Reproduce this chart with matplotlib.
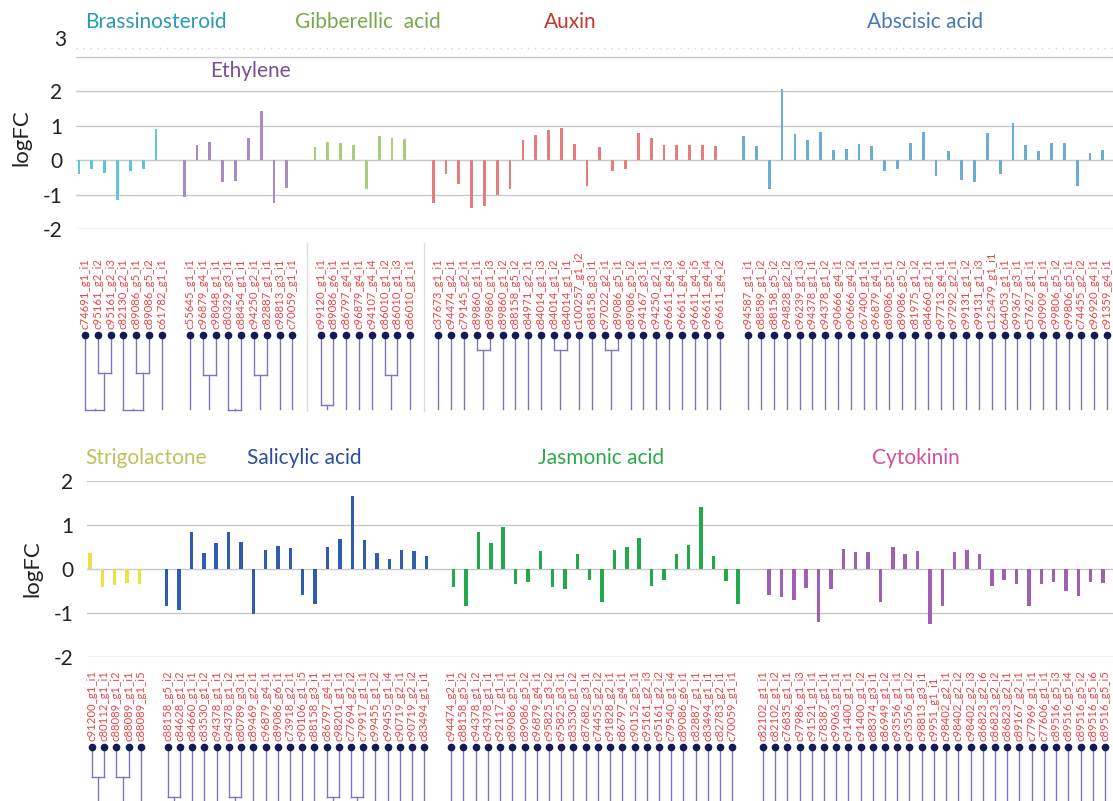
import numpy as np
import matplotlib.pyplot as plt
import matplotlib.transforms as mtrans

plt.rcParams['font.family'] = ['Lato', 'DejaVu Sans']

# ---------------- data: upper panel ----------------
brass_genes = ["c74691_g1_i1", "c95161_g2_i2", "c95161_g2_i3", "c82130_g2_i1", "c89086_g5_i1",
               "c89086_g5_i2", "c61782_g1_i1"]
brass_fc = [-0.41, -0.27, -0.37, -1.15, -0.32, -0.27, 0.92]

eth_genes = ["c55645_g1_i1", "c96879_g4_i1", "c98048_g1_i1", "c80329_g3_i1", "c88454_g1_i1",
             "c94250_g2_i1", "c82887_g1_i1", "c98813_g3_i1", "c70059_g1_i1"]
eth_fc = [-1.07, 0.44, 0.53, -0.63, -0.61, 0.66, 1.43, -1.23, -0.80]

ga_genes = ["c99120_g1_i1", "c89086_g6_i1", "c86797_g4_i1", "c96879_g4_i1", "c94107_g4_i4",
            "c86010_g1_i2", "c86010_g1_i3", "c86010_g1_i1"]
ga_fc = [0.39, 0.53, 0.51, 0.43, -0.84, 0.70, 0.66, 0.63]

aux_genes = ["c37673_g1_i1", "c94474_g2_i1", "c79145_g2_i1", "c89860_g1_i1", "c89860_g1_i3",
             "c89860_g1_i2", "c88158_g5_i2", "c84971_g2_i1", "c84014_g1_i3", "c84014_g1_i2",
             "c84014_g1_i1", "c100257_g1_i2", "c88158_g3_i1", "c97022_g2_i1", "c89086_g5_i1",
             "c89086_g5_i2", "c94167_g3_i1", "c94250_g2_i1", "c96611_g4_i3", "c96611_g4_i6",
             "c96611_g4_i5", "c96611_g4_i4", "c96611_g4_i2"]
aux_fc = [-1.23, -0.41, -0.70, -1.39, -1.34, -1.02, -0.83, 0.58, 0.74, 0.87, 0.95, 0.47,
          -0.76, 0.39, -0.32, -0.27, 0.78, 0.66, 0.44, 0.44, 0.44, 0.44, 0.41]

aba_genes = ["c94587_g1_i1", "c88589_g1_i2", "c88158_g5_i2", "c94828_g2_i2", "c96239_g1_i3",
             "c94378_g1_i1", "c94378_g1_i2", "c90666_g4_i1", "c90666_g4_i2", "c67400_g1_i1",
             "c96879_g4_i1", "c89086_g5_i1", "c89086_g5_i2", "c81975_g1_i2", "c84660_g1_i1",
             "c97713_g4_i1", "c97292_g2_i1", "c99131_g1_i2", "c99131_g1_i3", "c125479_g1_i1",
             "c64053_g1_i1", "c99367_g3_i1", "c57627_g1_i1", "c90909_g1_i1", "c99806_g5_i2",
             "c99806_g5_i1", "c74455_g2_i2", "c96920_g4_i1", "c91359_g4_i1"]
aba_fc = [0.70, 0.42, -0.83, 2.06, 0.76, 0.58, 0.81, 0.29, 0.34, 0.47, 0.42, -0.32, -0.27,
          0.50, 0.81, -0.46, 0.26, -0.58, -0.63, 0.78, -0.39, 1.09, 0.44, 0.26, 0.49, 0.50,
          -0.75, 0.22, 0.30]

# ---------------- data: lower panel ----------------
sl_genes = ["c91200_g1_i1", "c80112_g1_i1", "c88089_g1_i2", "c88089_g1_i1", "c88089_g1_i5"]
sl_fc = [0.36, -0.41, -0.36, -0.32, -0.35]

sa_genes = ["c88158_g5_i2", "c84628_g1_i2", "c84660_g1_i1", "c83530_g1_i2", "c94378_g1_i1",
            "c94378_g1_i2", "c80789_g3_i1", "c89469_g2_i1", "c96879_g4_i1", "c89086_g6_i1",
            "c73918_g2_i1", "c90106_g1_i5", "c88158_g3_i1", "c86797_g4_i1", "c98201_g1_i1",
            "c77694_g2_i2", "c79917_g1_i1", "c99455_g1_i2", "c99455_g1_i4", "c90719_g2_i1",
            "c90719_g2_i2", "c83494_g1_i1"]
sa_fc = [-0.84, -0.94, 0.83, 0.36, 0.58, 0.83, 0.62, -1.03, 0.43, 0.53, 0.47, -0.60, -0.79,
         0.51, 0.69, 1.67, 0.65, 0.36, 0.23, 0.43, 0.41, 0.30]

ja_genes = ["c94474_g2_i1", "c88158_g5_i2", "c94378_g1_i2", "c94378_g1_i1", "c92117_g1_i1",
            "c89086_g5_i1", "c89086_g5_i2", "c96879_g4_i1", "c95825_g3_i2", "c95825_g3_i1",
            "c83530_g1_i2", "c87682_g3_i1", "c74455_g2_i2", "c91828_g2_i1", "c86797_g4_i1",
            "c90152_g5_i1", "c95161_g2_i3", "c95161_g2_i2", "c79540_g1_i4", "c89086_g6_i1",
            "c82887_g1_i1", "c83494_g1_i1", "c82783_g2_i1", "c70059_g1_i1"]
ja_fc = [-0.41, -0.85, 0.83, 0.58, 0.96, -0.34, -0.30, 0.41, -0.40, -0.45, 0.35, -0.25,
         -0.75, 0.44, 0.51, 0.71, -0.38, -0.26, 0.34, 0.54, 1.42, 0.29, -0.28, -0.79]

ck_genes = ["c82102_g1_i1", "c82102_g1_i2", "c76835_g1_i1", "c97986_g1_i3", "c91521_g1_i1",
            "c78387_g1_i1", "c99063_g1_i1", "c91400_g1_i1", "c91400_g1_i2", "c88374_g3_i1",
            "c86949_g1_i2", "c93556_g1_i1", "c93556_g1_i2", "c98813_g3_i1", "c9951_g1_i1",
            "c98402_g2_i1", "c98402_g2_i2", "c98402_g2_i3", "c86823_g2_i6", "c86823_g2_i2",
            "c86823_g2_i1", "c89167_g2_i1", "c77969_g1_i1", "c77606_g1_i1", "c89516_g5_i3",
            "c89516_g5_i4", "c89516_g5_i2", "c89516_g5_i6", "c89516_g5_i5"]
ck_fc = [-0.58, -0.64, -0.71, -0.43, -1.20, -0.45, 0.45, 0.38, 0.38, -0.74, 0.49, 0.35, 0.40,
         -1.24, -0.85, 0.38, 0.43, 0.35, -0.38, -0.26, -0.34, -0.84, -0.34, -0.29, -0.49,
         -0.62, -0.30, -0.32, -0.30]

# cluster joins under the gene labels: (leaf a, leaf b, depth in px below the dots)
brass_tree = [(1, 2, 38), (0, 1, 75), (4, 5, 38), (3, 4, 75)]
eth_tree = [(1, 2, 40), (3, 4, 75), (5, 6, 40)]
ga_tree = [(0, 1, 70), (5, 6, 40)]
aux_tree = [(3, 4, 15), (9, 10, 15), (13, 14, 15)]
aba_tree = []
sl_tree = [(0, 1, 30), (2, 3, 30)]
sa_tree = [(0, 1, 50), (5, 6, 50), (13, 14, 50), (15, 16, 50)]
ja_tree = []
ck_tree = []

top_groups = [
    ("Brassinosteroid", brass_genes, brass_fc, brass_tree, "#5fc4dc", "#2a9bb3"),
    ("Ethylene", eth_genes, eth_fc, eth_tree, "#a88bc0", "#7a4f93"),
    ("Gibberellic  acid", ga_genes, ga_fc, ga_tree, "#a9cd7b", "#7aa94c"),
    ("Auxin", aux_genes, aux_fc, aux_tree, "#e87b7b", "#c0392b"),
    ("Abscisic acid", aba_genes, aba_fc, aba_tree, "#6aaed8", "#4a76b8"),
]
bot_groups = [
    ("Strigolactone", sl_genes, sl_fc, sl_tree, "#eee145", "#bfc15a"),
    ("Salicylic acid", sa_genes, sa_fc, sa_tree, "#2f5bb0", "#2d4e9e"),
    ("Jasmonic acid", ja_genes, ja_fc, ja_tree, "#22a94c", "#2ea84c"),
    ("Cytokinin", ck_genes, ck_fc, ck_tree, "#a05fb2", "#d24f9b"),
]

# ---------------- layout (pixels) ----------------
W, H = 1113, 801
top_gaps = [2.2, 2.2, 2.2, 2.2]
bot_gaps = [2.2, 2.2, 2.5]
top_title_x = [0.47, 10.2, 16.8, 36.2, 61.4]
top_title_y = [4.02, 2.59, 4.02, 4.02, 4.02]
bot_title_x = [-0.4, 12.7, 36.2, 63.2]
bot_title_y = [2.52, 2.52, 2.52, 2.52]


def positions(groups, gaps):
    out, start = [], 0.0
    for k, g in enumerate(groups):
        out.append(start + np.arange(len(g[1])))
        if k < len(gaps):
            start = out[-1][-1] + gaps[k]
    return out


def px_axes(fig, left, top, right, bottom):
    return fig.add_axes([left / W, 1 - bottom / H, (right - left) / W, (bottom - top) / H])


def draw_tree(ax, xs, merges, depth, color):
    centre = {i: xs[i] for i in range(len(xs))}
    low = {i: 0.0 for i in range(len(xs))}
    owner = list(range(len(xs)))
    for a, b, d in merges:
        ra, rb = owner[a], owner[b]
        for r in (ra, rb):
            ax.plot([centre[r], centre[r]], [low[r], -d], color=color, lw=1)
        ax.plot([centre[ra], centre[rb]], [-d, -d], color=color, lw=1)
        centre[ra] = (centre[ra] + centre[rb]) / 2
        low[ra] = -d
        owner = [ra if o == rb else o for o in owner]
        del centre[rb], low[rb]
    for r in centre:
        ax.plot([centre[r], centre[r]], [low[r], -depth], color=color, lw=1)


def panel(fig, groups, gaps, titles_x, titles_y, bar_box, first_px, step, ylim, yticks,
          width, strip_box, lab_first, lab_last, depth, dot_y, third_label=False):
    xs = positions(groups, gaps)
    left, top, right, bottom = bar_box
    ax = px_axes(fig, left, top, right, bottom)
    ax.set_xlim((left - first_px) / step, (right - first_px) / step)
    ax.set_ylim(*ylim)
    for yv in yticks:
        ax.axhline(yv, color="#c9c9c9", lw=1, zorder=0)
    for (name, genes, fc, tree, bc, tc), x, tx, ty in zip(groups, xs, titles_x, titles_y):
        ax.bar(x, fc, width=width, color=bc, zorder=2)
        ax.text(tx, ty, name, color=tc, fontsize=15, ha="left", va="center", clip_on=False)
    shown = [t for t in yticks if not (third_label and t == 3)]
    ax.set_yticks(shown)
    ax.set_yticklabels([str(int(t)) for t in shown], fontsize=15, color="#222222")
    if third_label:
        off = mtrans.ScaledTranslation(-10 / 100, 0, fig.dpi_scale_trans)
        ax.text(ax.get_xlim()[0], 3.5, "3", fontsize=15, color="#222222",
                ha="right", va="center", clip_on=False, transform=ax.transData + off)
        ax.axhline(3.27, color="#d6d6d6", lw=1, ls=(0, (1, 4)), zorder=0)
    ax.tick_params(axis="y", length=0, pad=10)
    ax.set_xticks([])
    ax.set_ylabel("logFC", fontsize=16, color="#222222", labelpad=8)
    for s in ax.spines.values():
        s.set_visible(False)
    ax.patch.set_alpha(0)

    # gene labels + dendrogram strip
    sl, st, sr, sb = strip_box
    sx = px_axes(fig, sl, st, sr, sb)
    last_x = xs[-1][-1]
    lab_step = (lab_last - lab_first) / last_x
    sx.set_xlim((sl - lab_first) / lab_step, (sr - lab_first) / lab_step)
    sx.set_ylim(-(sb - dot_y), dot_y - st)
    sx.axis("off")
    for (name, genes, fc, tree, bc, tc), x in zip(groups, xs):
        for xi, g in zip(x, genes):
            sx.text(xi, 6, g, rotation=90, ha="center", va="bottom", fontsize=8.2,
                    color="#e8454a")
        draw_tree(sx, x, tree, depth, "#7d78b3")
        sx.plot(x, np.zeros(len(x)), "o", color="#141a55", ms=4.5, zorder=3)
    return ax, sx, xs


fig = plt.figure(figsize=(W / 100, H / 100), dpi=100)

ax1, sx1, xs1 = panel(fig, top_groups, top_gaps, top_title_x, top_title_y,
                      (76, 46.7, 1113, 229), 79, 12.83, (-2, 3.3), [-2, -1, 0, 1, 2, 3],
                      0.22, (76, 240, 1113, 415), 85, 1107, 74, 335, third_label=True)
ax2, sx2, xs2 = panel(fig, bot_groups, bot_gaps, bot_title_x, bot_title_y,
                      (87, 481, 1113, 657), 90, 12.37, (-2, 2), [-2, -1, 0, 1, 2],
                      0.28, (87, 660, 1113, 801), 92, 1105, 60, 747)

# faint separators between pasted dendrogram pieces
for g in (1, 2):
    xm = (xs1[g][-1] + xs1[g + 1][0]) / 2
    sx1.plot([xm, xm], [-76, 92], color="#dddddd", lw=1)

fig.savefig("out.png", dpi=100)
